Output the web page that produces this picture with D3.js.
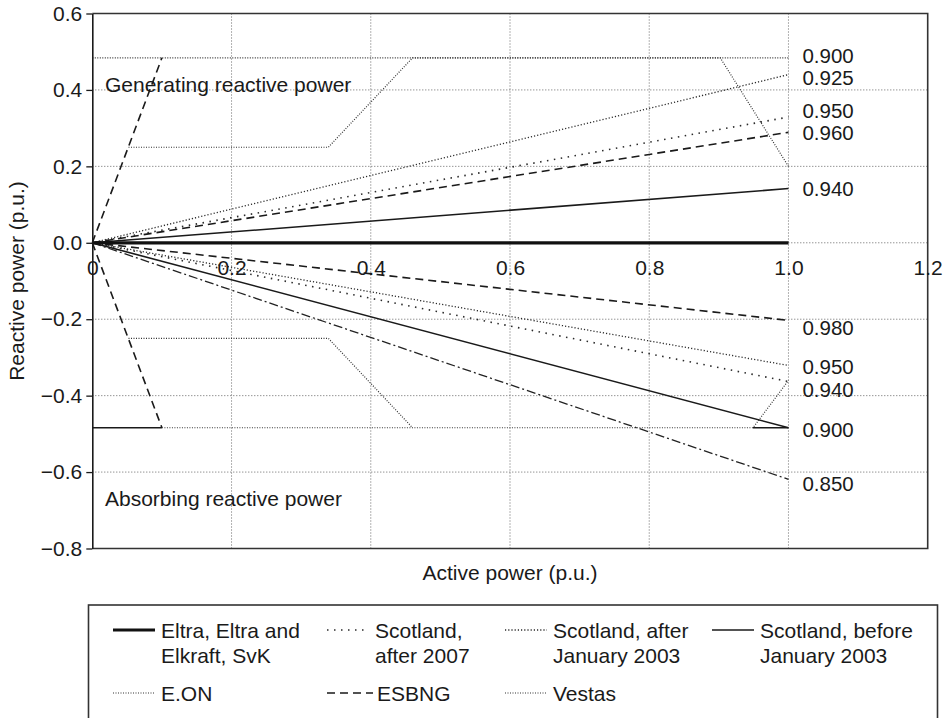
<!DOCTYPE html>
<html>
<head>
<meta charset="utf-8">
<script src="https://cdn.jsdelivr.net/npm/d3@7"></script>
<style>
  body { margin: 0; background: #fff; }
  text { font-family: "Liberation Sans", Arial, sans-serif; fill: #1a1a1a; }
</style>
</head>
<body>
<script>
// axis ticks
var xTicks = [0, 0.2, 0.4, 0.6, 0.8, 1.0, 1.2];
var yTicks = [-0.8, -0.6, -0.4, -0.2, 0.0, 0.2, 0.4, 0.6];

// curves, [active power, reactive power] in p.u.
var eltra = [[0, 0], [1, 0]];
var eonUpper = [[0.052, 0.25], [0.339, 0.25], [0.46, 0.484], [0.902, 0.484], [1.0, 0.2]];
var eonLower = [[0.052, -0.25], [0.339, -0.25], [0.46, -0.484]];
var esbngSteepUp = [[0, 0], [0.1, 0.484]];
var esbngSteepDown = [[0, 0], [0.1, -0.484]];
var esbngUpper = [[0, 0], [1, 0.289]];
var esbngLower = [[0, 0], [1, -0.203]];
var vestasUpper = [[0, 0.484], [1, 0.484]];
var vestasLower = [[0.1, -0.484], [0.949, -0.484], [1, -0.36]];
var scot2007Upper = [[0, 0], [1, 0.329]];
var scot2007Lower = [[0, 0], [1, -0.363]];
var scot2003Upper = [[0, 0], [1, 0.44]];
var scot2003Lower = [[0, 0], [1, -0.321]];
var scot2003Lag = [[0, 0], [1, -0.619]];
var scotBeforeUpper = [[0, 0], [1, 0.142]];
var scotBeforeLower = [[0, 0], [1, -0.484]];
var scotBeforeLeft = [[0, -0.484], [0.1, -0.484]];
var scotBeforeRight = [[0.949, -0.484], [1, -0.484]];

// power factor labels on the right
var pfLabels = ["0.900", "0.925", "0.950", "0.960", "0.940", "0.980", "0.950", "0.940", "0.900", "0.850"];
var pfLabelQ = [0.489, 0.431, 0.345, 0.287, 0.142, -0.221, -0.324, -0.384, -0.489, -0.629];

var legendNames = [
    ["Eltra, Eltra and", "Elkraft, SvK"],
    ["Scotland,", "after 2007"],
    ["Scotland, after", "January 2003"],
    ["Scotland, before", "January 2003"],
    ["E.ON"],
    ["ESBNG"],
    ["Vestas"]
];

function init() {
    var w = 950, h = 718;
    var margin = {top: 13.5, right: 22.3, bottom: 170, left: 92.3};

    var svg = d3.select("body").append("svg")
                .attr("width", w)
                .attr("height", h);

    var x = d3.scaleLinear().domain([0, 1.2]).range([margin.left, w - margin.right]);
    var y = d3.scaleLinear().domain([-0.8, 0.6]).range([h - margin.bottom + 0.5, margin.top]);

    // line styles
    var styles = {
        thick:   {width: 3.2, dash: null, color: "#111"},
        solid:   {width: 1.6, dash: null, color: "#1a1a1a"},
        dashed:  {width: 1.6, dash: "8,5", color: "#1a1a1a"},
        dashdot: {width: 1.3, dash: "9,3,2,3", color: "#222"},
        fine:    {width: 1.3, dash: "1.2,2", color: "#2a2a2a"},
        spaced:  {width: 1.6, dash: "1.5,5.5", color: "#2a2a2a"},
        dense:   {width: 1.2, dash: "1,1.5", color: "#333"}
    };

    // grid
    var grid = svg.append("g");
    grid.selectAll(".vg").data(xTicks.filter(d => d > 0 && d < 1.2)).enter()
        .append("line")
        .attr("x1", d => x(d)).attr("x2", d => x(d))
        .attr("y1", y(0.6)).attr("y2", y(-0.8))
        .attr("stroke", "#666").attr("stroke-width", 1).attr("stroke-dasharray", "1,2");
    grid.selectAll(".hg").data(yTicks.filter(d => d > -0.8 && d < 0.6)).enter()
        .append("line")
        .attr("x1", x(0)).attr("x2", x(1.2))
        .attr("y1", d => y(d)).attr("y2", d => y(d))
        .attr("stroke", "#666").attr("stroke-width", 1).attr("stroke-dasharray", "1,2");

    // plot border (top, right, bottom)
    svg.append("path")
       .attr("d", "M" + x(0) + "," + y(0.6) + "H" + x(1.2) + "V" + y(-0.8) + "H" + x(0))
       .attr("fill", "none").attr("stroke", "#333").attr("stroke-width", 1.6);

    var lines = [
        {pts: eonUpper, s: "dense"},
        {pts: eonLower, s: "dense"},
        {pts: vestasUpper, s: "dense"},
        {pts: vestasLower, s: "dense"},
        {pts: scot2003Upper, s: "fine"},
        {pts: scot2003Lower, s: "fine"},
        {pts: scot2003Lag, s: "dashdot"},
        {pts: scot2007Upper, s: "spaced"},
        {pts: scot2007Lower, s: "spaced"},
        {pts: esbngSteepUp, s: "dashed"},
        {pts: esbngSteepDown, s: "dashed"},
        {pts: esbngUpper, s: "dashed"},
        {pts: esbngLower, s: "dashed"},
        {pts: scotBeforeUpper, s: "solid"},
        {pts: scotBeforeLower, s: "solid"},
        {pts: scotBeforeLeft, s: "solid"},
        {pts: scotBeforeRight, s: "solid"},
        {pts: eltra, s: "thick"}
    ];

    var line = d3.line().x(d => x(d[0])).y(d => y(d[1]));

    svg.append("g").selectAll("path").data(lines).enter()
       .append("path")
       .attr("d", d => line(d.pts))
       .attr("fill", "none")
       .attr("stroke", d => styles[d.s].color)
       .attr("stroke-width", d => styles[d.s].width)
       .attr("stroke-dasharray", d => styles[d.s].dash);

    // y axis
    var fmt = d => (d < 0 ? "\u2212" : "") + Math.abs(d).toFixed(1);
    var yAxis = svg.append("g")
       .attr("transform", "translate(" + x(0) + ",0)")
       .call(d3.axisLeft(y).tickValues(yTicks).tickFormat(fmt).tickSizeInner(6).tickSizeOuter(0).tickPadding(4));
    yAxis.selectAll("text").style("font-size", "21px").attr("fill", "#1a1a1a")
         .attr("font-family", null);
    yAxis.select(".domain").attr("stroke", "#1a1a1a").attr("stroke-width", 1.6);
    yAxis.selectAll(".tick line").attr("stroke", "#1a1a1a").attr("stroke-width", 1.3);

    // x axis labels sit along the zero line
    var xAxis = svg.append("g")
       .attr("transform", "translate(0," + y(0) + ")")
       .call(d3.axisBottom(x).tickValues(xTicks)
             .tickFormat(d => d === 0 ? "0" : d.toFixed(1))
             .tickSize(0).tickPadding(17));
    xAxis.select(".domain").remove();
    xAxis.selectAll("text").style("font-size", "21px").attr("fill", "#1a1a1a")
         .attr("font-family", null);

    // right side power factor labels
    svg.append("g").selectAll("text").data(pfLabels).enter()
       .append("text")
       .attr("x", x(1.0) + 14)
       .attr("y", (d, i) => y(pfLabelQ[i]))
       .attr("dy", "0.36em")
       .style("font-size", "20.5px")
       .text(d => d);

    // region notes
    svg.append("text").attr("x", 105).attr("y", y(0.415)).attr("dy", "0.36em")
       .style("font-size", "21px").text("Generating reactive power");
    svg.append("text").attr("x", 105).attr("y", y(-0.67)).attr("dy", "0.36em")
       .style("font-size", "21px").text("Absorbing reactive power");

    // axis titles
    svg.append("text")
       .attr("transform", "translate(16," + ((y(0.6) + y(-0.8)) / 2) + ") rotate(-90)")
       .attr("text-anchor", "middle").attr("dy", "0.36em")
       .style("font-size", "21px")
       .text("Reactive power (p.u.)");
    svg.append("text")
       .attr("x", (x(0) + x(1.2)) / 2).attr("y", 572).attr("dy", "0.36em")
       .attr("text-anchor", "middle")
       .style("font-size", "21px")
       .text("Active power (p.u.)");

    // legend
    var lg = svg.append("g");
    lg.append("rect")
      .attr("x", 88.5).attr("y", 605).attr("width", 849).attr("height", 120)
      .attr("fill", "none").attr("stroke", "#333").attr("stroke-width", 1.6);

    var legendStyle = ["thick", "spaced", "fine", "solid", "dense", "dashed", "dense"];
    var colX = [113, 327, 505, 712];
    var rowY = [630, 693];

    var item = lg.selectAll(".item").data(legendNames).enter()
        .append("g")
        .attr("transform", (d, i) => "translate(" + colX[i % 4] + "," + rowY[Math.floor(i / 4)] + ")");

    item.append("line")
        .attr("x1", 0).attr("x2", (d, i) => i === 5 ? 46 : 42)
        .attr("y1", 0).attr("y2", 0)
        .attr("stroke", (d, i) => styles[legendStyle[i]].color)
        .attr("stroke-width", (d, i) => styles[legendStyle[i]].width)
        .attr("stroke-dasharray", (d, i) => styles[legendStyle[i]].dash);

    item.append("text")
        .attr("x", (d, i) => i === 5 ? 50 : 48)
        .attr("y", 0)
        .style("font-size", "21px")
        .selectAll("tspan").data(d => d).enter()
        .append("tspan")
        .attr("x", function() { return d3.select(this.parentNode).attr("x"); })
        .attr("dy", (d, i) => i === 0 ? "0.36em" : "25px")
        .text(d => d);
}

window.onload = init;
</script>
</body>
</html>
